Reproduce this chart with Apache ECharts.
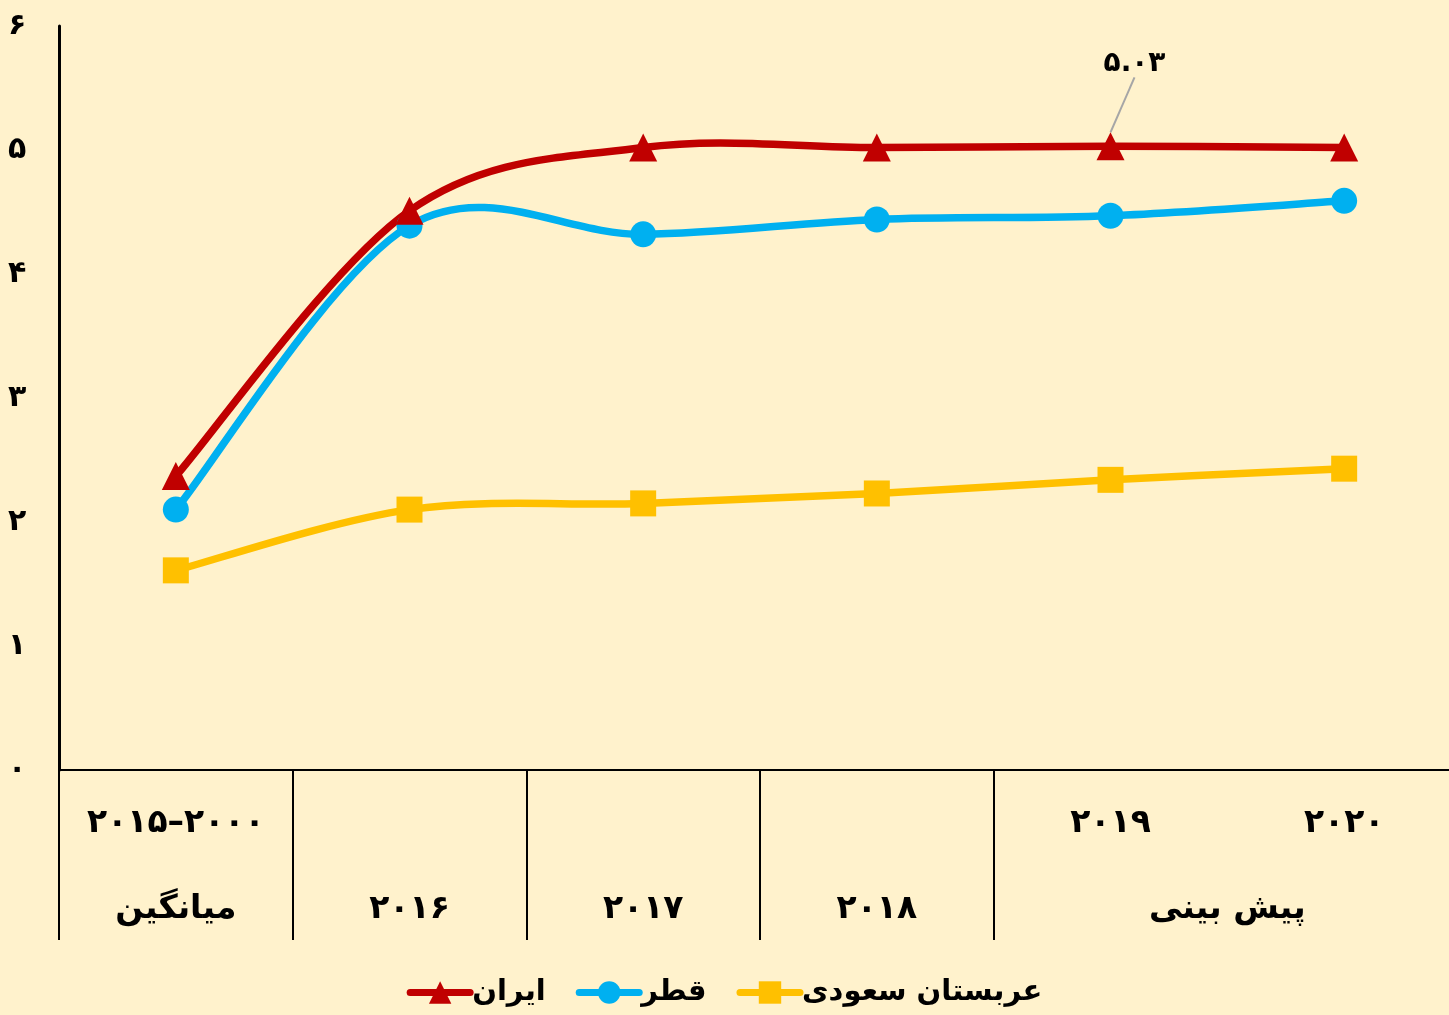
<!DOCTYPE html>
<html>
<head>
<meta charset="utf-8">
<script src="https://cdn.jsdelivr.net/npm/echarts@6/dist/echarts.min.js"></script>
<style>
  html, body { margin: 0; padding: 0; background: #FFF2CC; }
  #chart { width: 1449px; height: 1015px; }
</style>
</head>
<body>
<div id="chart"></div>
<script>
// دسته‌ها و برچسب‌ها
var categories = ['avg', '2016', '2017', '2018', '2019', '2020'];
var labelRow1 = ['۲۰۱۵–۲۰۰۰', '', '', '', '۲۰۱۹', '۲۰۲۰'];
var labelRow2 = ['میانگین', '۲۰۱۶', '۲۰۱۷', '۲۰۱۸', '', ''];
var forecastLabel = 'پیش بینی';
var yTicks = ['۰', '۱', '۲', '۳', '۴', '۵', '۶'];

// داده‌ها
var iran = [2.37, 4.51, 5.02, 5.02, 5.03, 5.02];
var qatar = [2.10, 4.39, 4.32, 4.44, 4.47, 4.59];
var saudi = [1.61, 2.10, 2.15, 2.23, 2.34, 2.43];
var seriesNames = ['ایران', 'قطر', 'عربستان سعودی'];
var colors = ['#C00000', '#00B0F0', '#FFC000'];

var font = 'DejaVu Sans';
var chart = echarts.init(document.getElementById('chart'));

var iranData = iran.map(function (v, i) {
    if (i !== 4) return v;
    return {
        value: v,
        label: {
            show: true, position: 'top', offset: [24, -50],
            formatter: '۵.۰۳', fontSize: 28, fontWeight: 'bold', color: '#000', fontFamily: font
        },
        labelLine: { show: true, lineStyle: { color: '#A6A6A6', width: 2 } }
    };
});

// منحنی نرم شبیه اکسل (Catmull-Rom) با مختصات محور
function curveSeries(values, color, z) {
    return {
        type: 'custom',
        z: z,
        silent: true,
        data: values.map(function (v, i) { return [i, v]; }),
        renderItem: function (params, api) {
            if (params.dataIndex !== 0) return;
            var p = values.map(function (v, i) { return api.coord([i, v]); });
            var n = p.length;
            var d = 'M' + p[0][0] + ' ' + p[0][1];
            for (var i = 0; i < n - 1; i++) {
                var p0 = p[Math.max(i - 1, 0)], p1 = p[i], p2 = p[i + 1], p3 = p[Math.min(i + 2, n - 1)];
                var c1x = p1[0] + (p2[0] - p0[0]) / 6, c1y = p1[1] + (p2[1] - p0[1]) / 6;
                var c2x = p2[0] - (p3[0] - p1[0]) / 6, c2y = p2[1] - (p3[1] - p1[1]) / 6;
                d += ' C' + c1x + ' ' + c1y + ' ' + c2x + ' ' + c2y + ' ' + p2[0] + ' ' + p2[1];
            }
            return {
                type: 'path',
                shape: { pathData: d },
                style: { fill: null, stroke: color, lineWidth: 7.5, lineCap: 'round', lineJoin: 'round' }
            };
        }
    };
}

function markerSeries(name, data, symbol, size, color, z) {
    return {
        name: name, type: 'line', data: data,
        symbol: symbol, symbolSize: size,
        itemStyle: { color: color },
        lineStyle: { color: color, width: 0 },
        z: z
    };
}

chart.setOption({
    backgroundColor: '#FFF2CC',
    animation: false,
    grid: { left: 59, top: 26, right: -12, bottom: 245, outerBoundsMode: 'none' },
    xAxis: {
        type: 'category',
        data: categories,
        boundaryGap: true,
        axisLine: { lineStyle: { color: '#000', width: 2 } },
        axisTick: {
            show: true, length: 170,
            interval: function (i) { return i !== 5; },
            lineStyle: { color: '#000', width: 2 }
        },
        axisLabel: {
            interval: 0, margin: 10,
            formatter: function (v, i) {
                return '{a|' + labelRow1[i] + '}\n{a|' + labelRow2[i] + '}';
            },
            rich: {
                a: { fontSize: 33, fontWeight: 'bold', color: '#000', lineHeight: 86, fontFamily: font }
            }
        }
    },
    yAxis: {
        type: 'value', min: 0, max: 6, interval: 1,
        splitLine: { show: false },
        axisLine: { show: true, lineStyle: { color: '#000', width: 3 } },
        axisTick: { show: false },
        axisLabel: {
            margin: 51, align: 'left',
            formatter: function (v) { return yTicks[v]; },
            fontSize: 30, fontWeight: 'bold', color: '#000', fontFamily: font
        }
    },
    legend: {
        top: 973, left: 'center',
        itemWidth: 60, itemHeight: 28, itemGap: 30,
        lineStyle: { width: 7, cap: 'round' },
        textStyle: { fontSize: 29, fontWeight: 'bold', color: '#000', fontFamily: font, padding: [0, 0, 0, -3] },
        data: seriesNames
    },
    series: [
        curveSeries(saudi, colors[2], 1),
        curveSeries(qatar, colors[1], 2),
        curveSeries(iran, colors[0], 3),
        markerSeries(seriesNames[2], saudi, 'rect', 26, colors[2], 4),
        markerSeries(seriesNames[1], qatar, 'circle', 26, colors[1], 5),
        markerSeries(seriesNames[0], iranData, 'triangle', 28, colors[0], 6)
    ]
});

// برچسب «پیش بینی» بین دو دستهٔ آخر
var x4 = chart.convertToPixel({ xAxisIndex: 0 }, categories[4]);
var x5 = chart.convertToPixel({ xAxisIndex: 0 }, categories[5]);
var y0 = chart.convertToPixel({ yAxisIndex: 0 }, 0);
chart.setOption({
    graphic: [{
        type: 'text',
        x: (x4 + x5) / 2, y: y0 + 139,
        style: {
            text: forecastLabel, fontSize: 33, fontWeight: 'bold', fill: '#000',
            fontFamily: font, align: 'center', verticalAlign: 'middle'
        }
    }]
});
</script>
</body>
</html>
